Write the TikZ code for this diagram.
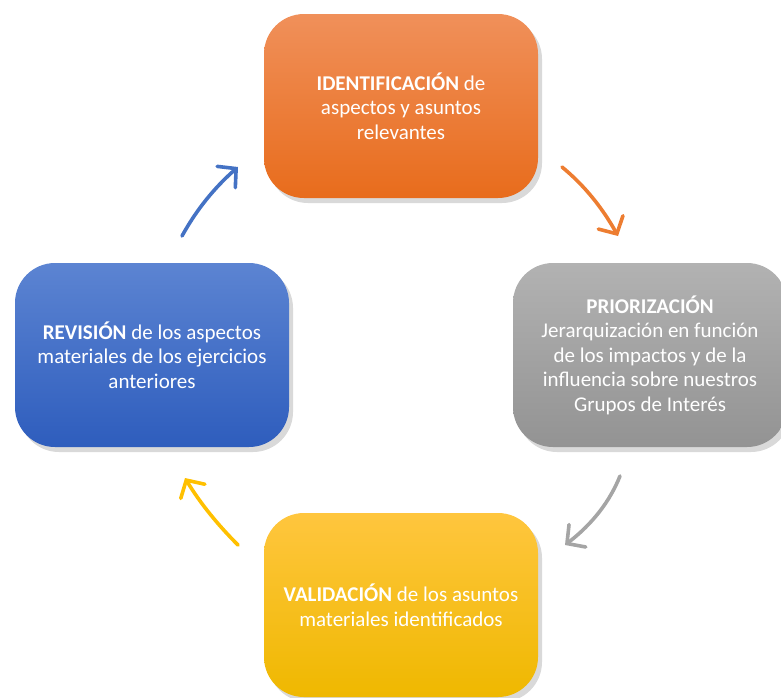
\documentclass[tikz,border=0pt]{standalone}
\usepackage{fontspec}
\setmainfont{Carlito}
\usetikzlibrary{arrows.meta,bending,shadows}
\definecolor{naranjaA}{HTML}{F0905A}
\definecolor{naranjaB}{HTML}{E86C1C}
\definecolor{grisA}{HTML}{B2B2B2}
\definecolor{grisB}{HTML}{939393}
\definecolor{azulA}{HTML}{5C84D2}
\definecolor{azulB}{HTML}{2E5DBD}
\definecolor{amarilloA}{HTML}{FFC63E}
\definecolor{amarilloB}{HTML}{EFB800}
\definecolor{fnaranja}{HTML}{ED7D31}
\definecolor{fgris}{HTML}{A5A5A5}
\definecolor{famarillo}{HTML}{FFC000}
\definecolor{fazul}{HTML}{4472C4}
\tikzset{
  caja/.style={rounded corners=40pt, minimum width=274pt, minimum height=184pt,
    text=white, align=center, font=\fontsize{21}{24.5}\selectfont,
    drop shadow={shadow xshift=4pt, shadow yshift=-5pt, opacity=0.3}},
  flecha/.style={line width=3.6pt, line cap=round, -{Straight Barb[length=13pt, width=28pt, line cap=round, flex]}}
}

\begin{document}
\begin{tikzpicture}[x=1pt, y=-1pt]
\useasboundingbox (0,0) rectangle (781,697);

\node[caja, top color=naranjaA, bottom color=naranjaB] (ident) at (401,106)
  {\textbf{IDENTIFICACIÓN} de\\aspectos y asuntos\\relevantes};
\node[caja, top color=grisA, bottom color=grisB] (prior) at (650,355)
  {\textbf{PRIORIZACIÓN}\\Jerarquización en función\\de los impactos y de la\\influencia sobre nuestros\\Grupos de Interés};
\node[caja, top color=amarilloA, bottom color=amarilloB] (valid) at (401,605)
  {\textbf{VALIDACIÓN} de los asuntos\\materiales identificados};
\node[caja, top color=azulA, bottom color=azulB] (revis) at (152,355)
  {\textbf{REVISIÓN} de los aspectos\\materiales de los ejercicios\\anteriores};

\coordinate (o1) at (562,167);
\coordinate (o2) at (618,236);
\coordinate (g1) at (620,476);
\coordinate (g2) at (565,545);
\coordinate (y1) at (238,545);
\coordinate (y2) at (185,478);
\coordinate (b1) at (182,236);
\coordinate (b2) at (238,167);

\draw[flecha, fnaranja] (o1) .. controls (584.7,185.7) and (603.3,208.7) .. (o2);
\draw[flecha, fgris] (g1) .. controls (609.3,502.7) and (591,525.7) .. (g2);
\draw[flecha, famarillo] (y1) .. controls (216,523) and (198.3,500.7) .. (y2);
\draw[flecha, fazul] (b1) .. controls (196.7,209.3) and (215.3,186.3) .. (b2);
\end{tikzpicture}
\end{document}
